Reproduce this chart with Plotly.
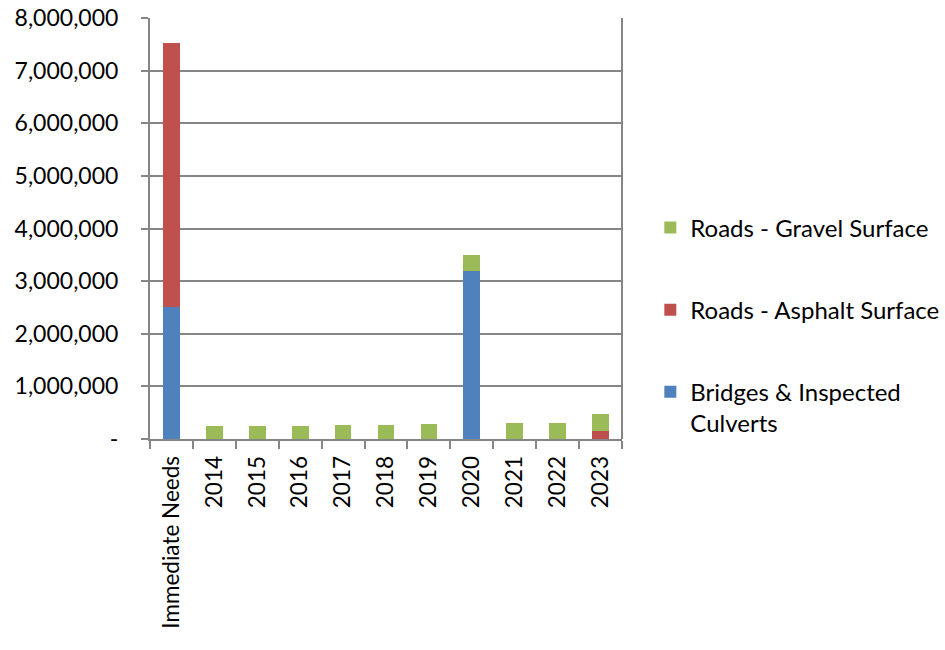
import plotly.graph_objects as go

categories = ["Immediate Needs", "2014", "2015", "2016", "2017", "2018",
              "2019", "2020", "2021", "2022", "2023"]
bridges = [2500000, 0, 0, 0, 0, 0, 0, 3200000, 0, 0, 0]
asphalt = [5030000, 0, 0, 0, 0, 0, 0, 0, 0, 0, 160000]
gravel = [0, 240000, 247000, 252000, 260000, 272000, 285000, 300000, 300000, 310000, 320000]
y_ticks = [0, 1000000, 2000000, 3000000, 4000000, 5000000, 6000000, 7000000, 8000000]
y_labels = ["-", "1,000,000", "2,000,000", "3,000,000", "4,000,000",
            "5,000,000", "6,000,000", "7,000,000", "8,000,000"]

FONT = "Lato, Calibri, sans-serif"
AXIS_GREY = "#868686"

fig = go.Figure()
fig.add_trace(go.Bar(x=categories, y=bridges, name="Bridges & Inspected<br>Culverts",
                     marker=dict(color="#4F81BD", line=dict(width=0)),
                     legendgroup="bridges", legendrank=3))
fig.add_trace(go.Bar(x=categories, y=asphalt, name="Roads - Asphalt Surface",
                     marker=dict(color="#C0504D", line=dict(width=0)),
                     legendgroup="asphalt", legendrank=2))
fig.add_trace(go.Bar(x=categories, y=gravel, name="Roads - Gravel Surface",
                     marker=dict(color="#9BBB59", line=dict(width=0)),
                     legendgroup="gravel", legendrank=1))

fig.update_layout(
    barmode="stack",
    bargap=0.61,
    width=945, height=650,
    margin=dict(l=150, r=323, t=18, b=211, autoexpand=False),
    paper_bgcolor="white", plot_bgcolor="white",
    font=dict(family=FONT, size=23, color="black"),
    showlegend=True,
    legend=dict(x=1.06, y=0.555, yanchor="top", xanchor="left",
                traceorder="grouped", tracegroupgap=48,
                valign="top", itemsizing="constant",
                font=dict(family=FONT, size=24, color="black")),
)
fig.update_xaxes(
    type="category", tickangle=-90, automargin=False,
    tickfont=dict(size=22.5),
    showline=True, linecolor=AXIS_GREY, linewidth=2,
    ticks="outside", tickson="boundaries", ticklen=8, tickcolor=AXIS_GREY, tickwidth=2,
    ticklabelstandoff=6,
    showgrid=False,
)
fig.update_yaxes(
    range=[0, 8000000], tickvals=y_ticks, ticktext=y_labels, automargin=False,
    showline=True, linecolor=AXIS_GREY, linewidth=2,
    ticks="outside", ticklen=7, tickcolor=AXIS_GREY, tickwidth=2,
    ticklabelstandoff=18,
    showgrid=True, gridcolor=AXIS_GREY, gridwidth=2,
    mirror=False, zeroline=False,
)
# right-hand frame edge of the plot area
fig.add_shape(type="line", xref="paper", yref="paper", x0=1, x1=1, y0=0, y1=1,
              line=dict(color=AXIS_GREY, width=2))

fig.write_html("out.html")
